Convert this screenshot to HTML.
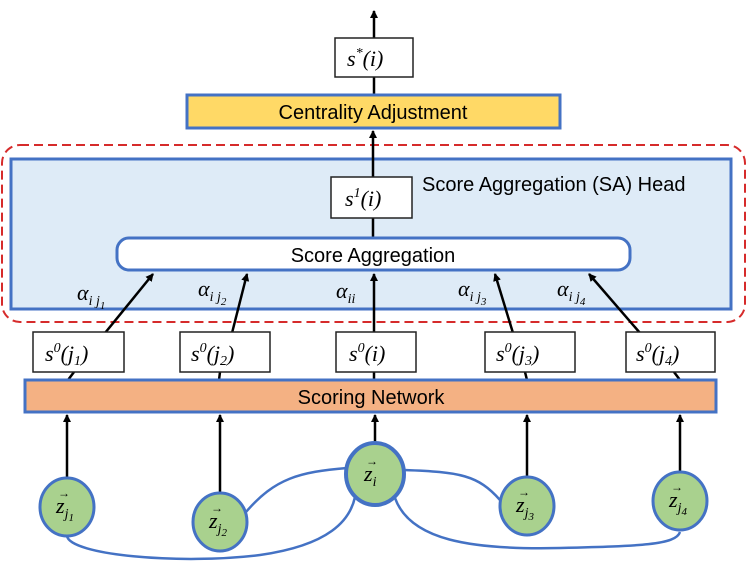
<!DOCTYPE html>
<html><head><meta charset="utf-8"><style>
body{margin:0;background:#fff}
svg{display:block}
.t{font-family:"Liberation Sans",sans-serif;font-size:20px;fill:#000}
.m{font-family:"Liberation Serif",serif;font-style:italic;font-size:22px;fill:#000}
.s{font-size:14px}
</style></head><body>
<svg width="747" height="562" viewBox="0 0 747 562" xmlns="http://www.w3.org/2000/svg">
<defs><marker id="a" markerWidth="8" markerHeight="8" refX="7" refY="4" orient="auto" markerUnits="userSpaceOnUse"><path d="M0,0 L8,4 L0,8 z" fill="#000"/></marker></defs>
<rect x="2" y="145" width="743" height="177" rx="18" fill="none" stroke="#d62b2b" stroke-width="2" stroke-dasharray="9,5"/>
<rect x="11" y="159" width="720" height="150" fill="#deebf7" stroke="#4472c4" stroke-width="3"/>
<text class="t" x="422" y="191">Score Aggregation (SA) Head</text>
<line x1="374" y1="38" x2="374" y2="11" stroke="#000" stroke-width="2.5" marker-end="url(#a)"/>
<line x1="374" y1="95" x2="374" y2="77" stroke="#000" stroke-width="2.5"/>
<line x1="373" y1="177" x2="373" y2="131" stroke="#000" stroke-width="2.5" marker-end="url(#a)"/>
<line x1="373" y1="238" x2="373" y2="218" stroke="#000" stroke-width="2.5"/>
<rect x="335" y="38" width="78" height="39" fill="#fff" stroke="#222" stroke-width="1.5"/>
<text class="m" x="347" y="66">s<tspan class="s" dy="-9">*</tspan><tspan dy="9">(i)</tspan></text>
<rect x="187" y="95" width="373" height="33" fill="#ffd966" stroke="#4472c4" stroke-width="3"/>
<text class="t" x="373" y="119" text-anchor="middle">Centrality Adjustment</text>
<rect x="331" y="177" width="81" height="41" fill="#fff" stroke="#222" stroke-width="1.5"/>
<text class="m" x="345" y="206">s<tspan class="s" dy="-9">1</tspan><tspan dy="9">(i)</tspan></text>
<rect x="117" y="238" width="513" height="32" rx="12" fill="#fff" stroke="#4472c4" stroke-width="3"/>
<text class="t" x="373" y="262" text-anchor="middle">Score Aggregation</text>
<g stroke="#000" stroke-width="2.5" fill="none">
<line x1="105" y1="333" x2="153" y2="274" marker-end="url(#a)"/>
<line x1="232" y1="333" x2="247" y2="274" marker-end="url(#a)"/>
<line x1="374" y1="333" x2="374" y2="274" marker-end="url(#a)"/>
<line x1="513" y1="333" x2="495" y2="274" marker-end="url(#a)"/>
<line x1="640" y1="333" x2="589" y2="274" marker-end="url(#a)"/>
<line x1="68" y1="380" x2="74" y2="372"/>
<line x1="219" y1="380" x2="220" y2="372"/>
<line x1="374" y1="380" x2="374" y2="372"/>
<line x1="527" y1="380" x2="525" y2="372"/>
<line x1="680" y1="380" x2="674" y2="372"/>
</g>
<text class="m" x="77" y="300">α<tspan class="s" dy="5">i j</tspan><tspan font-size="11" dy="4">1</tspan></text>
<text class="m" x="198" y="296">α<tspan class="s" dy="5">i j</tspan><tspan font-size="11" dy="4">2</tspan></text>
<text class="m" x="336" y="298">α<tspan class="s" dy="5">ii</tspan></text>
<text class="m" x="458" y="296">α<tspan class="s" dy="5">i j</tspan><tspan font-size="11" dy="4">3</tspan></text>
<text class="m" x="557" y="296">α<tspan class="s" dy="5">i j</tspan><tspan font-size="11" dy="4">4</tspan></text>
<g fill="#fff" stroke="#222" stroke-width="1.5">
<rect x="33" y="332" width="91" height="40"/>
<rect x="180" y="332" width="90" height="40"/>
<rect x="336" y="332" width="80" height="40"/>
<rect x="485" y="332" width="90" height="40"/>
<rect x="626" y="332" width="89" height="40"/>
</g>
<text class="m" x="45" y="361">s<tspan class="s" dy="-9">0</tspan><tspan dy="9">(j</tspan><tspan class="s" dy="4">1</tspan><tspan dy="-4">)</tspan></text>
<text class="m" x="191" y="361">s<tspan class="s" dy="-9">0</tspan><tspan dy="9">(j</tspan><tspan class="s" dy="4">2</tspan><tspan dy="-4">)</tspan></text>
<text class="m" x="349" y="361">s<tspan class="s" dy="-9">0</tspan><tspan dy="9">(i)</tspan></text>
<text class="m" x="496" y="361">s<tspan class="s" dy="-9">0</tspan><tspan dy="9">(j</tspan><tspan class="s" dy="4">3</tspan><tspan dy="-4">)</tspan></text>
<text class="m" x="636" y="361">s<tspan class="s" dy="-9">0</tspan><tspan dy="9">(j</tspan><tspan class="s" dy="4">4</tspan><tspan dy="-4">)</tspan></text>
<rect x="25" y="380" width="691" height="32" fill="#f4b183" stroke="#4472c4" stroke-width="3"/>
<text class="t" x="371" y="404" text-anchor="middle">Scoring Network</text>
<g stroke="#000" stroke-width="2.5">
<line x1="67" y1="478" x2="67" y2="415" marker-end="url(#a)"/>
<line x1="220" y1="492" x2="220" y2="415" marker-end="url(#a)"/>
<line x1="375" y1="444" x2="375" y2="415" marker-end="url(#a)"/>
<line x1="527" y1="477" x2="527" y2="415" marker-end="url(#a)"/>
<line x1="680" y1="472" x2="680" y2="415" marker-end="url(#a)"/>
</g>
<g stroke="#4472c4" stroke-width="2.5" fill="none">
<path d="M246,512 C275,478 300,472 347,468"/>
<path d="M404,470 C460,472 478,475 500,500"/>
<path d="M67,536 C70,555 180,565 260,555 C330,545 350,520 355,497"/>
<path d="M395,498 C410,540 470,550 560,548 C640,546 676,545 680,532"/>
</g>
<g fill="#a9d18e" stroke="#4472c4" stroke-width="3">
<ellipse cx="67" cy="507" rx="27" ry="29"/>
<ellipse cx="220" cy="522" rx="27" ry="29"/>
<ellipse cx="375" cy="474" rx="29" ry="31" stroke-width="4"/>
<ellipse cx="527" cy="506" rx="27" ry="29"/>
<ellipse cx="680" cy="501" rx="27" ry="29"/>
</g>
<text class="m" x="56" y="513">z<tspan class="s" dy="5">j</tspan><tspan font-size="11" dy="3">1</tspan></text>
<text class="m" x="209" y="528">z<tspan class="s" dy="5">j</tspan><tspan font-size="11" dy="3">2</tspan></text>
<text class="m" x="364" y="481">z<tspan class="s" dy="5">i</tspan></text>
<text class="m" x="516" y="512">z<tspan class="s" dy="5">j</tspan><tspan font-size="11" dy="3">3</tspan></text>
<text class="m" x="669" y="507">z<tspan class="s" dy="5">j</tspan><tspan font-size="11" dy="3">4</tspan></text>
<g font-family="Liberation Sans" font-size="12" fill="#000">
<text x="58" y="497">→</text><text x="211" y="512">→</text><text x="366" y="465">→</text><text x="518" y="496">→</text><text x="671" y="491">→</text>
</g>
</svg>
</body></html>
